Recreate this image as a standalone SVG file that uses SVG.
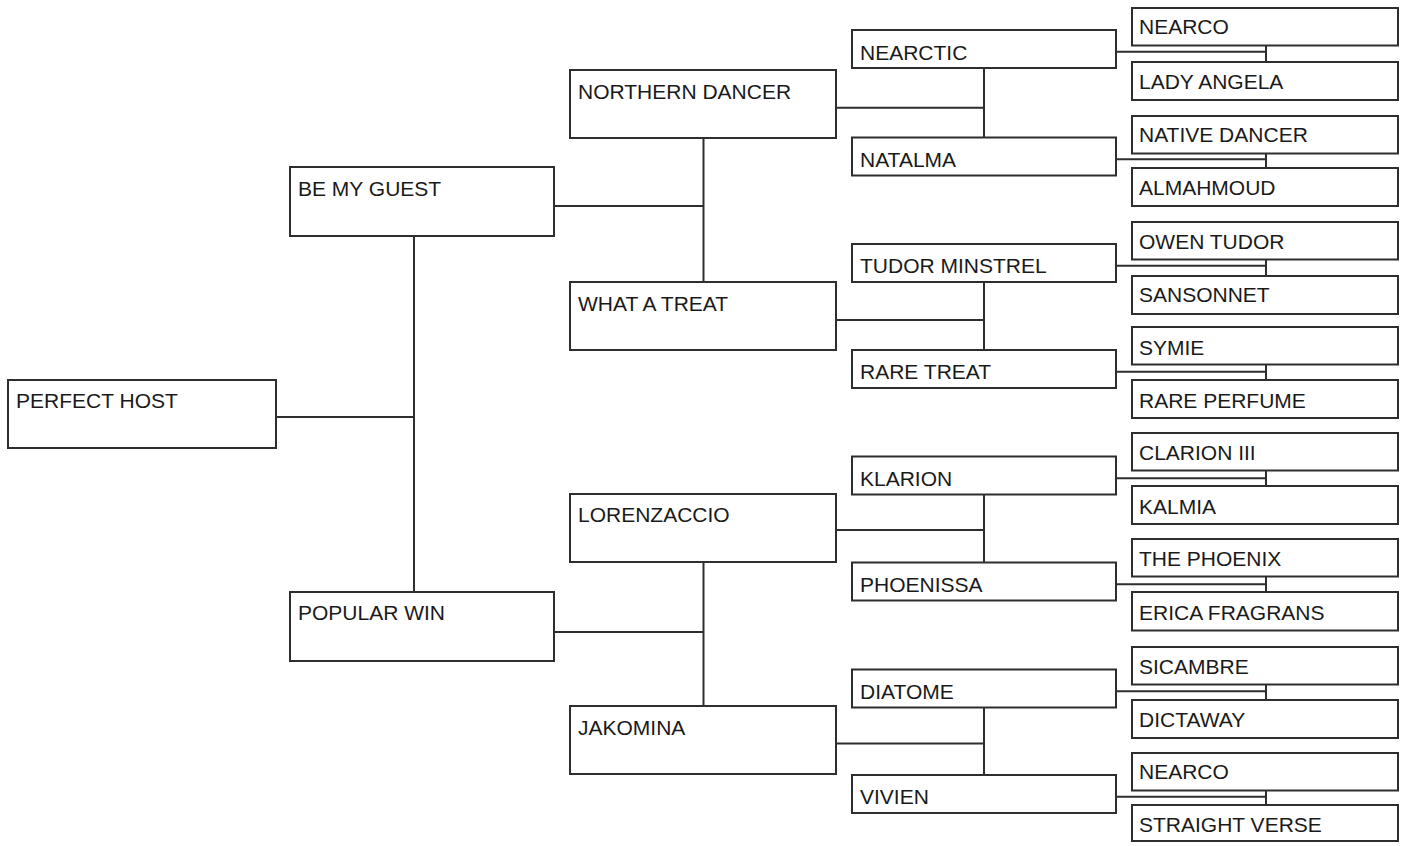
<svg xmlns="http://www.w3.org/2000/svg" width="1405" height="846" viewBox="0 0 1405 846">
<style>
.b{fill:#fff;stroke:#2e2e2e;stroke-width:2}
.t{font-family:"Liberation Sans",Arial,sans-serif;font-size:21px;fill:#1a1a1a}
.c{fill:none;stroke:#2e2e2e;stroke-width:2}
</style>
<rect width="1405" height="846" fill="#fff"/>
<g id="connectors" class="c">
<path d="M276 417H414M414 236V592M554 206H703.5M554 632H703.5M703.5 138V282M703.5 562V706"/>
<path d="M836 107.7H984M836 320H984M836 530H984M836 743.5H984M984 68V137.5M984 282V350M984 494.5V562.5M984 707.5V775"/>
<path d="M1116 51.7H1266M1266 45.5V62M1116 159.2H1266M1266 153.5V168M1116 265.7H1266M1266 259.5V276M1116 371.7H1266M1266 364.5V380M1116 478.2H1266M1266 470.5V486M1116 584.2H1266M1266 576.5V592M1116 691.2H1266M1266 684.5V700M1116 796.7H1266M1266 790.5V805"/>
</g>
<g id="n0"><rect class="b" x="8" y="380" width="268" height="68"/><text class="t" x="16" y="408">PERFECT HOST</text></g>
<g id="n1"><rect class="b" x="290" y="167" width="264" height="69"/><text class="t" x="298" y="196">BE MY GUEST</text></g>
<g id="n2"><rect class="b" x="290" y="592" width="264" height="69"/><text class="t" x="298" y="620">POPULAR WIN</text></g>
<g id="n3"><rect class="b" x="570" y="70" width="266" height="68"/><text class="t" x="578" y="99">NORTHERN DANCER</text></g>
<g id="n4"><rect class="b" x="570" y="282" width="266" height="68"/><text class="t" x="578" y="311">WHAT A TREAT</text></g>
<g id="n5"><rect class="b" x="570" y="494" width="266" height="68"/><text class="t" x="578" y="522">LORENZACCIO</text></g>
<g id="n6"><rect class="b" x="570" y="706" width="266" height="68"/><text class="t" x="578" y="735">JAKOMINA</text></g>
<g id="n7"><rect class="b" x="852" y="30" width="264" height="38"/><text class="t" x="860" y="60">NEARCTIC</text></g>
<g id="n8"><rect class="b" x="852" y="137.5" width="264" height="38"/><text class="t" x="860" y="166.5">NATALMA</text></g>
<g id="n9"><rect class="b" x="852" y="244" width="264" height="38"/><text class="t" x="860" y="273">TUDOR MINSTREL</text></g>
<g id="n10"><rect class="b" x="852" y="350" width="264" height="38"/><text class="t" x="860" y="379">RARE TREAT</text></g>
<g id="n11"><rect class="b" x="852" y="456.5" width="264" height="38"/><text class="t" x="860" y="485.5">KLARION</text></g>
<g id="n12"><rect class="b" x="852" y="562.5" width="264" height="38"/><text class="t" x="860" y="591.5">PHOENISSA</text></g>
<g id="n13"><rect class="b" x="852" y="669.5" width="264" height="38"/><text class="t" x="860" y="698.5">DIATOME</text></g>
<g id="n14"><rect class="b" x="852" y="775" width="264" height="38"/><text class="t" x="860" y="804">VIVIEN</text></g>
<g id="n15"><rect class="b" x="1132" y="8" width="266" height="37.5"/><text class="t" x="1139" y="34">NEARCO</text></g>
<g id="n16"><rect class="b" x="1132" y="62" width="266" height="38"/><text class="t" x="1139" y="89">LADY ANGELA</text></g>
<g id="n17"><rect class="b" x="1132" y="116" width="266" height="37.5"/><text class="t" x="1139" y="142">NATIVE DANCER</text></g>
<g id="n18"><rect class="b" x="1132" y="168" width="266" height="38"/><text class="t" x="1139" y="195">ALMAHMOUD</text></g>
<g id="n19"><rect class="b" x="1132" y="222" width="266" height="37.5"/><text class="t" x="1139" y="249">OWEN TUDOR</text></g>
<g id="n20"><rect class="b" x="1132" y="276" width="266" height="38"/><text class="t" x="1139" y="302">SANSONNET</text></g>
<g id="n21"><rect class="b" x="1132" y="327" width="266" height="37.5"/><text class="t" x="1139" y="355">SYMIE</text></g>
<g id="n22"><rect class="b" x="1132" y="380" width="266" height="38"/><text class="t" x="1139" y="408">RARE PERFUME</text></g>
<g id="n23"><rect class="b" x="1132" y="433" width="266" height="37.5"/><text class="t" x="1139" y="460">CLARION III</text></g>
<g id="n24"><rect class="b" x="1132" y="486" width="266" height="38"/><text class="t" x="1139" y="514">KALMIA</text></g>
<g id="n25"><rect class="b" x="1132" y="539" width="266" height="37.5"/><text class="t" x="1139" y="566">THE PHOENIX</text></g>
<g id="n26"><rect class="b" x="1132" y="592" width="266" height="38.5"/><text class="t" x="1139" y="620">ERICA FRAGRANS</text></g>
<g id="n27"><rect class="b" x="1132" y="647" width="266" height="37.5"/><text class="t" x="1139" y="674">SICAMBRE</text></g>
<g id="n28"><rect class="b" x="1132" y="700" width="266" height="38"/><text class="t" x="1139" y="727">DICTAWAY</text></g>
<g id="n29"><rect class="b" x="1132" y="753" width="266" height="37.5"/><text class="t" x="1139" y="779">NEARCO</text></g>
<g id="n30"><rect class="b" x="1132" y="805" width="266" height="36"/><text class="t" x="1139" y="832">STRAIGHT VERSE</text></g>
</svg>
